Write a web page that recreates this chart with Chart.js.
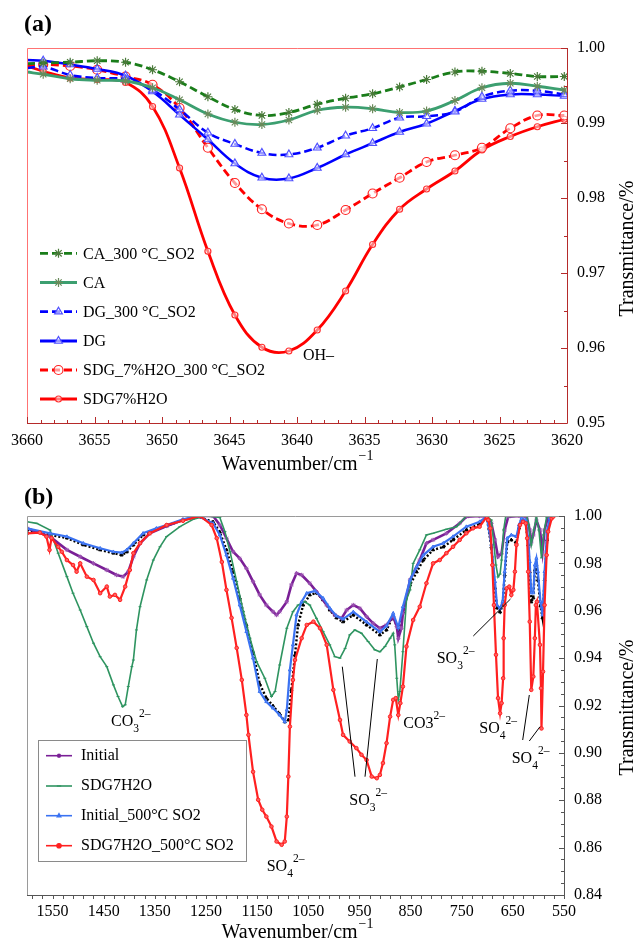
<!DOCTYPE html>
<html><head><meta charset="utf-8">
<script src="https://cdn.jsdelivr.net/npm/chart.js@4.4.1/dist/chart.umd.min.js"></script>
<style>
html,body{margin:0;padding:0;background:#fff;width:638px;height:945px;overflow:hidden}
#wa{position:absolute;left:0;top:0;width:638px;height:478px}
#wb{position:absolute;left:0;top:478px;width:638px;height:467px}
canvas{display:block}
</style></head><body>
<div id="wa"><canvas id="ca" width="638" height="478"></canvas></div>
<div id="wb"><canvas id="cb" width="638" height="467"></canvas></div>
<script>
const SERIF = '"Liberation Serif","Times New Roman",serif';

/* ---------- Panel (a) data ---------- */
const wnA = [3660, 3658.8, 3656.8, 3654.8, 3652.7, 3650.7, 3648.7, 3646.6, 3644.6, 3642.6, 3640.6,
             3638.5, 3636.4, 3634.4, 3632.4, 3630.4, 3628.3, 3626.3, 3624.2, 3622.2, 3620.2];
const seriesNamesA = ['CA_300 °C_SO2', 'CA', 'DG_300 °C_SO2', 'DG', 'SDG_7%H2O_300 °C_SO2', 'SDG7%H2O'];
const tCA300 = [0.9979,0.9980,0.9981,0.9983,0.9981,0.9971,0.9955,0.9935,0.9918,0.9910,0.9914,0.9925,0.9933,0.9939,0.9948,0.9958,0.9968,0.9969,0.9966,0.9962,0.9962];
const tCA    = [0.9968,0.9965,0.9959,0.9957,0.9956,0.9947,0.9931,0.9912,0.9901,0.9898,0.9904,0.9917,0.9921,0.9919,0.9914,0.9916,0.9930,0.9947,0.9953,0.9949,0.9944];
const tDG300 = [0.9973,0.9975,0.9964,0.9960,0.9958,0.9944,0.9918,0.9887,0.9872,0.9860,0.9858,0.9867,0.9883,0.9893,0.9907,0.9909,0.9915,0.9935,0.9943,0.9943,0.9938];
const tDG    = [0.9984,0.9983,0.9978,0.9972,0.9963,0.9942,0.9911,0.9878,0.9846,0.9827,0.9826,0.9840,0.9858,0.9873,0.9888,0.9899,0.9916,0.9932,0.9938,0.9938,0.9936];
const tSDG300= [0.9976,0.9978,0.9976,0.9971,0.9962,0.9951,0.9920,0.9867,0.9820,0.9785,0.9766,0.9764,0.9784,0.9806,0.9827,0.9848,0.9857,0.9867,0.9893,0.9910,0.9910];
const tSDG7  = [0.9976,0.9969,0.9960,0.9958,0.9954,0.9922,0.9840,0.9729,0.9644,0.9601,0.9596,0.9624,0.9676,0.9738,0.9785,0.9812,0.9836,0.9864,0.9882,0.9895,0.9905];
const xTicksA = [3660,3655,3650,3645,3640,3635,3630,3625,3620];
const yTicksA = [0.95,0.96,0.97,0.98,0.99,1.00];

/* ---------- Panel (b) data ---------- */
const seriesNamesB = ['Initial', 'SDG7H2O', 'Initial_500°C SO2', 'SDG7H2O_500°C SO2'];
const wnInit = [1600,1555,1522,1496,1470,1444,1425,1412,1402,1392, 1379,1360,1327,1295,1262,1236,1223,1210,1197,1184,
  1171,1158,1145,1132,1119,1112,1106,1092,1083,1073, 1063,1047,1034,1014,998,985,975,962,949,936,
  923,910,897,884,877,874,868,865,851,832, 819,806,780,754,741,715,701,692,685,679,
  672,666,659,636,623,617,614,610,604,597, 592,588,581,574];
const tInit = [0.9948,0.9913,0.9857,0.9828,0.9800,0.9772,0.9751,0.9744,0.9765,0.9828, 0.9885,0.9927,0.9958,0.9983,1.0000,1.0000,0.9962,0.9906,0.9849,0.9821,
  0.9779,0.9723,0.9667,0.9624,0.9596,0.9582,0.9596,0.9638,0.9709,0.9758, 0.9751,0.9716,0.9681,0.9624,0.9582,0.9568,0.9603,0.9624,0.9610,0.9575,
  0.9547,0.9526,0.9540,0.9575,0.9533,0.9484,0.9526,0.9589,0.9730,0.9814, 0.9885,0.9899,0.9927,0.9969,0.9997,1.0000,0.9997,0.9969,0.9899,0.9828,
  0.9843,0.9941,0.9997,1.0000,0.9997,0.9941,0.9890,0.9920,0.9983,0.9941, 0.9848,0.9941,0.9997,1.0000];

const wnSdg = [1600,1581,1555,1539,1522,1510,1496,1483,1470,1457, 1444,1431,1422,1413,1408,1402,1395,1392,1386,1379,
  1366,1353,1340,1327,1301,1275,1249,1223,1213,1203, 1190,1177,1164,1151,1135,1122,1115,1106,1092,1080,
  1070,1057,1047,1034,1021,1008,998,988,978,969, 959,946,933,920,910,900,890,884,881,877,
  874,871,865,858,851,845,832,819,806,780, 760,741,701,692,687,683,679,675,672,668,
  664,623,619,614,609,604,599,594,590,584, 574];
const tSdg = [0.9976,0.9969,0.9941,0.9843,0.9744,0.9674,0.9603,0.9533,0.9463,0.9406, 0.9364,0.9287,0.9238,0.9195,0.9203,0.9280,0.9364,0.9392,0.9519,0.9617,
  0.9730,0.9814,0.9870,0.9913,0.9955,0.9986,1.0000,0.9994,0.9934,0.9849, 0.9723,0.9596,0.9484,0.9385,0.9315,0.9238,0.9259,0.9371,0.9526,0.9596,
  0.9624,0.9638,0.9624,0.9568,0.9512,0.9456,0.9406,0.9400,0.9441,0.9498, 0.9519,0.9505,0.9470,0.9435,0.9427,0.9449,0.9484,0.9505,0.9456,0.9315,
  0.9224,0.9259,0.9427,0.9646,0.9688,0.9800,0.9857,0.9920,0.9927,0.9944, 0.9955,1.0000,1.0000,0.9983,0.9878,0.9793,0.9743,0.9755,0.9814,0.9941,
  0.9998,1.0000,0.9962,0.9878,0.9941,0.9992,0.9941,0.9823,0.9920,0.9996, 1.0000];

const wnIs = [1600,1555,1522,1490,1457,1431,1415,1405,1392,1373, 1347,1327,1295,1266,1236,1223,1210,1197,1184,1171,
  1158,1145,1132,1119,1106,1096,1092,1086,1080,1073, 1063,1053,1037,1021,1008,995,982,962,936,910,
  897,884,874,865,851,838,825,806,786,767, 741,715,701,692,685,681,675,670,666,661,
  653,643,638,633,625,620,617,614,610,607, 604,601,596,592,588,583,578];
const tIs = [0.9948,0.9927,0.9913,0.9885,0.9864,0.9849,0.9845,0.9857,0.9885,0.9927, 0.9948,0.9962,0.9986,1.0000,0.9969,0.9920,0.9835,0.9737,0.9624,0.9512,
  0.9400,0.9259,0.9216,0.9189,0.9160,0.9132,0.9181,0.9350,0.9456,0.9582, 0.9638,0.9674,0.9684,0.9653,0.9611,0.9578,0.9565,0.9595,0.9553,0.9511,
  0.9536,0.9589,0.9529,0.9617,0.9730,0.9786,0.9835,0.9870,0.9885,0.9913, 0.9955,0.9976,0.9997,0.9878,0.9723,0.9624,0.9610,0.9638,0.9765,0.9906,
  0.9920,0.9913,0.9962,0.9990,0.9983,0.9906,0.9807,0.9675,0.9675,0.9793, 0.9821,0.9765,0.9638,0.9582,0.9765,0.9934,0.9990];

const wnBlack = [1600,1555,1522,1490,1457,1431,1415,1405,1392,1373, 1347,1327,1295,1266,1236,1223,1210,1197,1184,1171,
  1158,1145,1132,1119,1106,1096,1089,1083,1076,1070, 1060,1047,1034,1021,1008,995,982,962,936,910,
  897,884,874,865,851,838,825,806,786,767, 741,715,701,692,685,681,675,670,666,661,
  653,643,638,633,625,620,617,614,610,607, 604,601,596,592,588,583,578];
const tBlack = [0.9941,0.9920,0.9907,0.9878,0.9857,0.9843,0.9835,0.9848,0.9878,0.9920, 0.9945,0.9958,0.9983,0.9998,0.9975,0.9932,0.9857,0.9764,0.9654,0.9540,
  0.9426,0.9291,0.9232,0.9198,0.9165,0.9131,0.9139,0.9266,0.9414,0.9540, 0.9624,0.9667,0.9675,0.9646,0.9603,0.9570,0.9553,0.9582,0.9540,0.9498,
  0.9519,0.9578,0.9519,0.9595,0.9709,0.9764,0.9814,0.9857,0.9869,0.9899, 0.9941,0.9966,0.9996,0.9869,0.9696,0.9612,0.9595,0.9624,0.9751,0.9890,
  0.9899,0.9886,0.9949,0.9983,0.9975,0.9878,0.9764,0.9637,0.9654,0.9772, 0.9793,0.9730,0.9620,0.9570,0.9730,0.9899,0.9983];

const wnRed = [1600,1575,1562,1556,1552,1539,1532,1522,1510,1503, 1496,1483,1470,1457,1444,1438,1428,1418,1408,1399,
  1392,1379,1360,1327,1295,1262,1239,1229,1219,1210, 1200,1190,1180,1171,1167,1158,1148,1140,1132,1122,
  1112,1102,1096,1092,1089,1086,1080,1076,1063,1053, 1040,1027,1014,1001,988,982,969,956,946,936,
  926,916,910,904,897,890,884,879,874,870, 865,858,845,832,819,806,793,780,767,754,
  741,728,715,701,698,694,690,687,683,679, 675,672,669,668,666,662,657,653,649,646,
  643,636,630,625,622,620,617,614,610,607, 605,603,597,595,594,591,588,584,581,574, 571];
const tRed = [0.9927,0.9930,0.9913,0.9857,0.9907,0.9870,0.9849,0.9814,0.9793,0.9765, 0.9800,0.9744,0.9730,0.9674,0.9702,0.9660,0.9667,0.9646,0.9702,0.9772,
  0.9843,0.9885,0.9927,0.9962,0.9980,1.0000,0.9962,0.9906,0.9806,0.9688, 0.9570,0.9443,0.9308,0.9160,0.9076,0.8920,0.8802,0.8760,0.8731,0.8689,
  0.8626,0.8612,0.8626,0.8731,0.8900,0.9111,0.9308,0.9392,0.9484,0.9540, 0.9554,0.9526,0.9456,0.9266,0.9139,0.9076,0.9048,0.9020,0.8992,0.8970,
  0.8900,0.8893,0.8907,0.8957,0.9041,0.9153,0.9224,0.9231,0.9160,0.9210, 0.9280,0.9449,0.9561,0.9617,0.9716,0.9800,0.9814,0.9843,0.9870,0.9899,
  0.9927,0.9948,0.9955,0.9997,0.9983,0.9948,0.9793,0.9624,0.9414,0.9231, 0.9167,0.9210,0.9315,0.9484,0.9624,0.9695,0.9702,0.9667,0.9688,0.9765,
  0.9878,0.9962,0.9976,0.9969,0.9906,0.9765,0.9554,0.9266,0.9322,0.9484, 0.9624,0.9638,0.9456,0.9273,0.9103,0.9343,0.9624,0.9835,0.9934,0.9990, 0.9997];

const xTicksB = [1550,1450,1350,1250,1150,1050,950,850,750,650,550];
const yTicksB = [0.84,0.86,0.88,0.90,0.92,0.94,0.96,0.98,1.00];

/* ---------- helpers ---------- */
function pairs(xs, ys) { return xs.map((x, i) => ({ x: x, y: ys[i] })); }
function seg(ctx, x1, y1, x2, y2) { ctx.beginPath(); ctx.moveTo(x1, y1); ctx.lineTo(x2, y2); ctx.stroke(); }
function mark(ctx, style, x, y, r, stroke, fill, lw) {
  ctx.save(); ctx.setLineDash([]); ctx.lineWidth = lw; ctx.strokeStyle = stroke; ctx.fillStyle = fill || 'rgba(0,0,0,0)';
  ctx.beginPath();
  if (style === 'circle') { ctx.arc(x, y, r, 0, Math.PI * 2); ctx.fill(); ctx.stroke(); }
  else if (style === 'triangle') {
    const s = r * 3 / Math.sqrt(3), h = s * Math.sqrt(3) / 2;
    ctx.moveTo(x, y - 2 * h / 3); ctx.lineTo(x + s / 2, y + h / 3); ctx.lineTo(x - s / 2, y + h / 3); ctx.closePath(); ctx.fill(); ctx.stroke();
  } else if (style === 'star') {
    for (let k = 0; k < 4; k++) { const a = k * Math.PI / 4; ctx.moveTo(x - Math.cos(a) * r, y - Math.sin(a) * r); ctx.lineTo(x + Math.cos(a) * r, y + Math.sin(a) * r); }
    ctx.stroke();
  } else if (style === 'line') { ctx.moveTo(x - r, y); ctx.lineTo(x + r, y); ctx.stroke(); }
  ctx.restore();
}
function chem(ctx, x, y, parts, size) {
  let cx = x;
  for (const p of parts) {
    const t = p[0], m = p[1];
    const fs = m === 'n' ? size : size * 0.72;
    ctx.font = fs + 'px ' + SERIF;
    const dy = m === 'sub' ? size * 0.38 : (m === 'sup' ? -size * 0.56 : 0);
    ctx.fillText(t, cx, y + dy);
    cx += ctx.measureText(t).width;
  }
}
function xTitle(ctx, cx, y) {
  ctx.font = '20px ' + SERIF;
  const w1 = ctx.measureText('Wavenumber/cm').width;
  ctx.font = '14px ' + SERIF;
  const w2 = ctx.measureText('\u22121').width;
  const x0 = cx - (w1 + w2) / 2;
  ctx.font = '20px ' + SERIF; ctx.textAlign = 'left'; ctx.textBaseline = 'alphabetic';
  ctx.fillText('Wavenumber/cm', x0, y);
  ctx.font = '14px ' + SERIF;
  ctx.fillText('\u22121', x0 + w1 + 1, y - 10);
}
function yTitle(ctx, x, cy) {
  ctx.save(); ctx.translate(x, cy); ctx.rotate(-Math.PI / 2);
  ctx.font = '20px ' + SERIF; ctx.textAlign = 'center'; ctx.textBaseline = 'middle';
  ctx.fillText('Transmittance/%', 0, 0); ctx.restore();
}

/* ---------- Panel (a) chart ---------- */
function dsA(label, data, color, dash, style, pColor, pFill, pr, bw) {
  return { label: label, data: pairs(wnA, data), borderColor: color, borderWidth: bw, borderDash: dash,
    tension: 0.4, fill: false, pointStyle: style,
    pointRadius: wnA.map((w, i) => i === 0 ? 0 : pr), pointBorderColor: pColor, pointBackgroundColor: pFill, pointBorderWidth: 1.2 };
}
const datasetsA = [
  dsA(seriesNamesA[0], tCA300, '#1a7d1a', [8, 4], 'star', '#4a7a3a', 'rgba(0,0,0,0)', 4.5, 2.8),
  dsA(seriesNamesA[1], tCA, '#3c9f70', [], 'star', '#6a8a5a', 'rgba(0,0,0,0)', 4.5, 2.8),
  dsA(seriesNamesA[2], tDG300, '#0000ff', [8, 4], 'triangle', '#5050ff', 'rgba(255,255,255,0.6)', 4.5, 2.5),
  dsA(seriesNamesA[3], tDG, '#0000ff', [], 'triangle', '#5050ff', 'rgba(255,255,255,0.6)', 4.5, 2.5),
  dsA(seriesNamesA[4], tSDG300, '#ff0000', [8, 4], 'circle', '#ff2020', 'rgba(255,255,255,0.6)', 4.5, 2.8),
  dsA(seriesNamesA[5], tSDG7, '#ff0000', [], 'circle', '#ff3030', 'rgba(255,255,255,0.5)', 3, 2.8)
];

const decorA = {
  id: 'decorA',
  afterDraw(chart) {
    const ctx = chart.ctx, ca = chart.chartArea, xs = chart.scales.x, ys = chart.scales.y;
    ctx.save();
    ctx.lineWidth = 1;
    ctx.strokeStyle = '#ff7373';
    seg(ctx, ca.left + 0.5, ca.top + 0.5, ca.right, ca.top + 0.5);
    seg(ctx, ca.left + 0.5, ca.top + 0.5, ca.left + 0.5, ca.bottom);
    ctx.strokeStyle = '#b52a2a';
    seg(ctx, ca.left, ca.bottom + 0.5, ca.right + 0.5, ca.bottom + 0.5);
    seg(ctx, ca.right + 0.5, ca.top, ca.right + 0.5, ca.bottom + 0.5);
    for (let v = 3620; v <= 3660; v++) {
      const p = Math.round(xs.getPixelForValue(v)) + 0.5, len = (v % 5 === 0) ? 6 : 3;
      seg(ctx, p, ca.bottom, p, ca.bottom - len);
    }
    for (let k = 0; k <= 10; k++) {
      const p = Math.round(ys.getPixelForValue(0.95 + k * 0.005)) + 0.5, len = (k % 2 === 0) ? 6 : 3;
      seg(ctx, ca.right, p, ca.right - len, p);
    }
    ctx.fillStyle = '#000';
    ctx.font = 'bold 24px ' + SERIF; ctx.textAlign = 'left'; ctx.textBaseline = 'alphabetic';
    ctx.fillText('(a)', 24, 31);
    xTitle(ctx, 297, 469.5);
    yTitle(ctx, 628, 248.5);
    ctx.font = '16px ' + SERIF; ctx.textAlign = 'left'; ctx.textBaseline = 'alphabetic';
    ctx.fillText('OH\u2013', 303, 360);
    // legend
    const ys0 = [253.3, 282.5, 311.7, 341, 370, 399];
    chart.data.datasets.forEach((d, i) => {
      const y = ys0[i];
      ctx.save(); ctx.strokeStyle = d.borderColor; ctx.lineWidth = 2.8; ctx.setLineDash(d.borderDash);
      seg(ctx, 40, y, 77, y); ctx.restore();
      mark(ctx, d.pointStyle, 58.5, y, d.pointStyle === 'circle' && i === 5 ? 3 : 4.5, d.pointBorderColor, d.pointBackgroundColor, 1.2);
      ctx.fillStyle = '#000'; ctx.font = '16px ' + SERIF; ctx.textBaseline = 'middle'; ctx.textAlign = 'left';
      ctx.fillText(d.label, 83, y + 1);
    });
    ctx.restore();
  }
};

new Chart(document.getElementById('ca'), {
  type: 'line',
  data: { datasets: datasetsA },
  options: {
    responsive: false, animation: false, devicePixelRatio: 1,
    layout: { padding: { left: 27, top: 48, right: 0, bottom: 0 } },
    plugins: { legend: { display: false }, tooltip: { enabled: false } },
    scales: {
      x: { type: 'linear', position: 'bottom', reverse: true, min: 3620, max: 3660,
        afterBuildTicks: s => { s.ticks = xTicksA.map(v => ({ value: v })); },
        afterFit: s => { s.height = 55; },
        grid: { display: false, drawTicks: false }, border: { display: false },
        ticks: { autoSkip: false, maxRotation: 0, padding: 8, color: '#000', font: { family: SERIF, size: 16 }, callback: v => String(v) } },
      y: { type: 'linear', position: 'right', min: 0.95, max: 1.0,
        afterBuildTicks: s => { s.ticks = yTicksA.map(v => ({ value: v })); },
        afterFit: s => { s.width = 71; },
        grid: { display: false, drawTicks: false }, border: { display: false },
        ticks: { autoSkip: false, padding: 10, color: '#000', font: { family: SERIF, size: 16 }, callback: v => v.toFixed(2) } }
    }
  },
  plugins: [decorA]
});

/* ---------- Panel (b) chart ---------- */
const datasetsB = [
  { label: seriesNamesB[3], data: pairs(wnRed, tRed), borderColor: '#ff2020', borderWidth: 2.2, order: 1, mk: 'circle', tension: 0,
    pointStyle: 'circle', pointRadius: 1.8, pointBorderWidth: 1, pointBorderColor: '#ff2020', pointBackgroundColor: '#ff6060' },
  { label: seriesNamesB[2], data: pairs(wnIs, tIs), borderColor: '#3a72f2', borderWidth: 2.2, order: 2, mk: 'triangle', tension: 0,
    pointStyle: 'triangle', pointRadius: 1.8, pointBorderWidth: 1, pointBorderColor: '#3a72f2', pointBackgroundColor: '#6f96f5' },
  { label: seriesNamesB[1], data: pairs(wnSdg, tSdg), borderColor: '#2e9460', borderWidth: 1.6, order: 3, mk: 'line', tension: 0,
    pointStyle: 'line', pointRadius: 1.5, pointBorderWidth: 1, pointBorderColor: '#2e9460' },
  { label: seriesNamesB[0], data: pairs(wnInit, tInit), borderColor: '#7a1f96', borderWidth: 2.6, order: 4, mk: 'star', tension: 0,
    pointStyle: 'star', pointRadius: 2.2, pointBorderWidth: 1, pointBorderColor: '#9a50b0' },
  { label: '', data: pairs(wnBlack, tBlack), borderColor: '#000000', borderWidth: 2.4, borderDash: [2, 2], order: 5, tension: 0,
    pointStyle: 'triangle', pointRadius: 1.8, pointBorderWidth: 1, pointBorderColor: '#000', pointBackgroundColor: '#000' }
];

const decorB = {
  id: 'decorB',
  afterDraw(chart) {
    const ctx = chart.ctx, ca = chart.chartArea, xs = chart.scales.x, ys = chart.scales.y;
    ctx.save();
    ctx.lineWidth = 1;
    ctx.strokeStyle = '#9a9a9a';
    seg(ctx, ca.left + 0.5, ca.top + 0.5, ca.right, ca.top + 0.5);
    seg(ctx, ca.left + 0.5, ca.top + 0.5, ca.left + 0.5, ca.bottom);
    ctx.strokeStyle = '#555';
    seg(ctx, ca.left, ca.bottom + 0.5, ca.right + 0.5, ca.bottom + 0.5);
    seg(ctx, ca.right + 0.5, ca.top, ca.right + 0.5, ca.bottom + 0.5);
    for (let v = 1590; v >= 550; v -= 20) {
      const p = Math.round(xs.getPixelForValue(v)) + 0.5;
      seg(ctx, p, ca.bottom, p, ca.bottom + 4);
    }
    for (let k = 0; k <= 32; k++) {
      const p = Math.round(ys.getPixelForValue(0.84 + k * 0.005)) + 0.5, len = (k % 4 === 0) ? 5 : 3;
      seg(ctx, ca.right, p, ca.right - len, p);
    }
    ctx.fillStyle = '#000';
    ctx.font = 'bold 24px ' + SERIF; ctx.textAlign = 'left'; ctx.textBaseline = 'alphabetic';
    ctx.fillText('(b)', 24, 26);
    xTitle(ctx, 297, 460);
    yTitle(ctx, 628, 229.5);
    // annotations
    ctx.textAlign = 'left'; ctx.textBaseline = 'alphabetic'; ctx.fillStyle = '#000';
    const F = 16;
    chem(ctx, 111, 248, [['CO', 'n'], ['3', 'sub'], ['2\u2013', 'sup']], F);
    chem(ctx, 266.7, 393, [['SO', 'n'], ['4', 'sub'], ['2\u2013', 'sup']], F);
    chem(ctx, 349.3, 327, [['SO', 'n'], ['3', 'sub'], ['2\u2013', 'sup']], F);
    chem(ctx, 403.3, 250, [['CO3', 'n'], ['2\u2013', 'sup']], F);
    chem(ctx, 436.7, 184.7, [['SO', 'n'], ['3', 'sub'], ['2\u2013', 'sup']], F);
    chem(ctx, 479.3, 255, [['SO', 'n'], ['4', 'sub'], ['2\u2013', 'sup']], F);
    chem(ctx, 511.7, 285, [['SO', 'n'], ['4', 'sub'], ['2\u2013', 'sup']], F);
    ctx.strokeStyle = '#000'; ctx.lineWidth = 1;
    const off = 478;
    seg(ctx, 342.3, 666.7 - off, 355, 776.7 - off);
    seg(ctx, 377.3, 659 - off, 365, 776.7 - off);
    seg(ctx, 473.3, 636 - off, 510.5, 599 - off);
    seg(ctx, 522.7, 740 - off, 529.3, 695 - off);
    seg(ctx, 529.3, 741 - off, 540, 726.7 - off);
    // legend
    ctx.fillStyle = '#fff'; ctx.fillRect(38.5, 262.5, 208, 121);
    ctx.strokeStyle = '#8a8a8a'; ctx.strokeRect(38.5, 262.5, 208, 121);
    const order = [3, 2, 1, 0];
    const yl = [277.7, 308, 337.7, 367.7];
    order.forEach((di, i) => {
      const d = chart.data.datasets[di], y = yl[i];
      ctx.save(); ctx.strokeStyle = d.borderColor; ctx.lineWidth = 1.6; seg(ctx, 46, y, 72, y); ctx.restore();
      mark(ctx, d.mk, 59, y, 2.2, d.borderColor, d.borderColor, 1.2);
      ctx.fillStyle = '#000'; ctx.font = '16px ' + SERIF; ctx.textBaseline = 'middle'; ctx.textAlign = 'left';
      ctx.fillText(d.label, 81, y);
    });
    ctx.restore();
  }
};

new Chart(document.getElementById('cb'), {
  type: 'line',
  data: { datasets: datasetsB },
  options: {
    responsive: false, animation: false, devicePixelRatio: 1,
    layout: { padding: { left: 27, top: 38, right: 0, bottom: 0 } },
    plugins: { legend: { display: false }, tooltip: { enabled: false } },
    scales: {
      x: { type: 'linear', position: 'bottom', reverse: true, min: 550, max: 1600,
        afterBuildTicks: s => { s.ticks = xTicksB.map(v => ({ value: v })); },
        afterFit: s => { s.height = 50; },
        grid: { display: false, drawTicks: false }, border: { display: false },
        ticks: { autoSkip: false, maxRotation: 0, padding: 7, color: '#000', font: { family: SERIF, size: 16 }, callback: v => String(v) } },
      y: { type: 'linear', position: 'right', min: 0.84, max: 1.0,
        afterBuildTicks: s => { s.ticks = yTicksB.map(v => ({ value: v })); },
        afterFit: s => { s.width = 74; },
        grid: { display: false, drawTicks: false }, border: { display: false },
        ticks: { autoSkip: false, padding: 10, color: '#000', font: { family: SERIF, size: 16 }, callback: v => v.toFixed(2) } }
    }
  },
  plugins: [decorB]
});
</script>
</body></html>
